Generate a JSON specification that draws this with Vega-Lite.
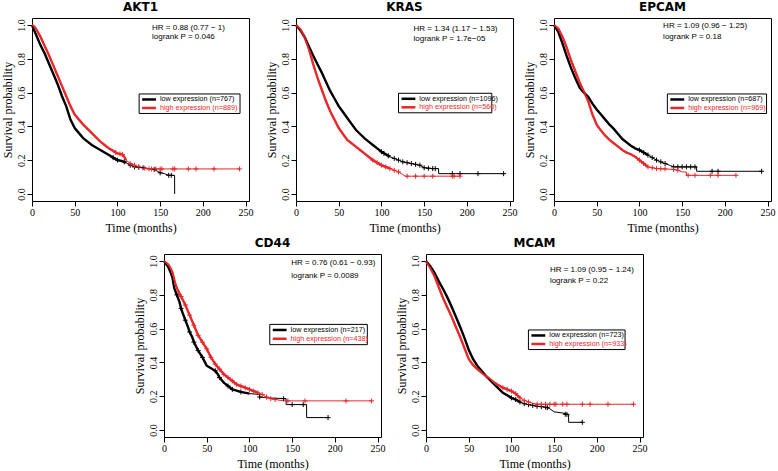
{
"$schema": "https://vega.github.io/schema/vega-lite/v6.json",
"background": "white",
"padding": {"left": 0, "top": 0, "right": 0, "bottom": 0},
"config": {
  "view": {"stroke": "#000", "strokeWidth": 1},
  "axis": {"domain": false, "grid": false, "tickSize": 5, "tickColor": "#000", "labelColor": "#000", "titleColor": "#000", "labelFont": "Liberation Serif", "labelFontSize": 10, "titleFont": "Liberation Serif", "titleFontSize": 12, "titleFontWeight": "normal", "labelPadding": 1, "titlePadding": 2, "labelFlush": false, "labelOverlap": false, "labelBound": false, "tickCount": 12},
  "axisX": {"titlePadding": 5},
  "axisY": {"labelAngle": 270, "labelAlign": "center", "labelBaseline": "bottom", "labelOverlap": false},
  "title": {"font": "DejaVu Sans", "fontSize": 12, "fontWeight": "bold", "color": "#000", "offset": 0, "baseline": "alphabetic"},
  "line": {"strokeJoin": "miter"}
},
"datasets": {
"km": [
{"g":"AKT1","grp":"low","t":0,"s":1.0},{"g":"AKT1","grp":"low","t":2,"s":0.975},{"g":"AKT1","grp":"low","t":5,"s":0.94},{"g":"AKT1","grp":"low","t":10,"s":0.88},{"g":"AKT1","grp":"low","t":15,"s":0.83},{"g":"AKT1","grp":"low","t":20,"s":0.77},{"g":"AKT1","grp":"low","t":25,"s":0.71},{"g":"AKT1","grp":"low","t":30,"s":0.65},{"g":"AKT1","grp":"low","t":35,"s":0.58},{"g":"AKT1","grp":"low","t":40,"s":0.52},{"g":"AKT1","grp":"low","t":45,"s":0.44},{"g":"AKT1","grp":"low","t":50,"s":0.39},{"g":"AKT1","grp":"low","t":55,"s":0.36},{"g":"AKT1","grp":"low","t":60,"s":0.33},{"g":"AKT1","grp":"low","t":65,"s":0.31},{"g":"AKT1","grp":"low","t":70,"s":0.29},{"g":"AKT1","grp":"low","t":75,"s":0.275},{"g":"AKT1","grp":"low","t":80,"s":0.26},{"g":"AKT1","grp":"low","t":85,"s":0.245},{"g":"AKT1","grp":"low","t":90,"s":0.23},{"g":"AKT1","grp":"low","t":95,"s":0.215},{"g":"AKT1","grp":"low","t":100,"s":0.2},{"g":"AKT1","grp":"low","t":105,"s":0.195},{"g":"AKT1","grp":"low","t":110,"s":0.185},{"g":"AKT1","grp":"low","t":115,"s":0.17},{"g":"AKT1","grp":"low","t":120,"s":0.16},{"g":"AKT1","grp":"low","t":130,"s":0.155},{"g":"AKT1","grp":"low","t":140,"s":0.148},{"g":"AKT1","grp":"low","t":145,"s":0.14},{"g":"AKT1","grp":"low","t":150,"s":0.125},{"g":"AKT1","grp":"low","t":155,"s":0.12},{"g":"AKT1","grp":"low","t":160,"s":0.11},{"g":"AKT1","grp":"low","t":166.9,"s":0.11},{"g":"AKT1","grp":"low","t":167,"s":0.0},
{"g":"AKT1","grp":"high","t":0,"s":1.0},{"g":"AKT1","grp":"high","t":3,"s":0.99},{"g":"AKT1","grp":"high","t":5,"s":0.975},{"g":"AKT1","grp":"high","t":10,"s":0.93},{"g":"AKT1","grp":"high","t":15,"s":0.875},{"g":"AKT1","grp":"high","t":20,"s":0.82},{"g":"AKT1","grp":"high","t":25,"s":0.76},{"g":"AKT1","grp":"high","t":30,"s":0.7},{"g":"AKT1","grp":"high","t":35,"s":0.64},{"g":"AKT1","grp":"high","t":40,"s":0.58},{"g":"AKT1","grp":"high","t":45,"s":0.52},{"g":"AKT1","grp":"high","t":50,"s":0.47},{"g":"AKT1","grp":"high","t":55,"s":0.44},{"g":"AKT1","grp":"high","t":60,"s":0.41},{"g":"AKT1","grp":"high","t":65,"s":0.385},{"g":"AKT1","grp":"high","t":70,"s":0.36},{"g":"AKT1","grp":"high","t":75,"s":0.335},{"g":"AKT1","grp":"high","t":80,"s":0.31},{"g":"AKT1","grp":"high","t":85,"s":0.29},{"g":"AKT1","grp":"high","t":90,"s":0.27},{"g":"AKT1","grp":"high","t":95,"s":0.255},{"g":"AKT1","grp":"high","t":100,"s":0.24},{"g":"AKT1","grp":"high","t":105,"s":0.235},{"g":"AKT1","grp":"high","t":108,"s":0.22},{"g":"AKT1","grp":"high","t":110,"s":0.2},{"g":"AKT1","grp":"high","t":115,"s":0.18},{"g":"AKT1","grp":"high","t":120,"s":0.17},{"g":"AKT1","grp":"high","t":125,"s":0.16},{"g":"AKT1","grp":"high","t":130,"s":0.155},{"g":"AKT1","grp":"high","t":135,"s":0.148},{"g":"AKT1","grp":"high","t":243,"s":0.148},
{"g":"KRAS","grp":"low","t":0,"s":1.0},{"g":"KRAS","grp":"low","t":5,"s":0.97},{"g":"KRAS","grp":"low","t":10,"s":0.93},{"g":"KRAS","grp":"low","t":15,"s":0.875},{"g":"KRAS","grp":"low","t":20,"s":0.82},{"g":"KRAS","grp":"low","t":25,"s":0.77},{"g":"KRAS","grp":"low","t":30,"s":0.72},{"g":"KRAS","grp":"low","t":35,"s":0.665},{"g":"KRAS","grp":"low","t":40,"s":0.61},{"g":"KRAS","grp":"low","t":45,"s":0.565},{"g":"KRAS","grp":"low","t":50,"s":0.52},{"g":"KRAS","grp":"low","t":55,"s":0.485},{"g":"KRAS","grp":"low","t":60,"s":0.45},{"g":"KRAS","grp":"low","t":65,"s":0.415},{"g":"KRAS","grp":"low","t":70,"s":0.38},{"g":"KRAS","grp":"low","t":75,"s":0.355},{"g":"KRAS","grp":"low","t":80,"s":0.33},{"g":"KRAS","grp":"low","t":85,"s":0.31},{"g":"KRAS","grp":"low","t":90,"s":0.29},{"g":"KRAS","grp":"low","t":95,"s":0.27},{"g":"KRAS","grp":"low","t":100,"s":0.25},{"g":"KRAS","grp":"low","t":105,"s":0.235},{"g":"KRAS","grp":"low","t":110,"s":0.22},{"g":"KRAS","grp":"low","t":115,"s":0.21},{"g":"KRAS","grp":"low","t":120,"s":0.2},{"g":"KRAS","grp":"low","t":125,"s":0.19},{"g":"KRAS","grp":"low","t":130,"s":0.185},{"g":"KRAS","grp":"low","t":140,"s":0.175},{"g":"KRAS","grp":"low","t":145,"s":0.17},{"g":"KRAS","grp":"low","t":150,"s":0.155},{"g":"KRAS","grp":"low","t":160,"s":0.15},{"g":"KRAS","grp":"low","t":166.9,"s":0.15},{"g":"KRAS","grp":"low","t":167,"s":0.12},{"g":"KRAS","grp":"low","t":243,"s":0.12},
{"g":"KRAS","grp":"high","t":0,"s":1.0},{"g":"KRAS","grp":"high","t":5,"s":0.975},{"g":"KRAS","grp":"high","t":10,"s":0.93},{"g":"KRAS","grp":"high","t":15,"s":0.86},{"g":"KRAS","grp":"high","t":20,"s":0.77},{"g":"KRAS","grp":"high","t":25,"s":0.69},{"g":"KRAS","grp":"high","t":30,"s":0.62},{"g":"KRAS","grp":"high","t":35,"s":0.55},{"g":"KRAS","grp":"high","t":40,"s":0.49},{"g":"KRAS","grp":"high","t":45,"s":0.44},{"g":"KRAS","grp":"high","t":50,"s":0.39},{"g":"KRAS","grp":"high","t":55,"s":0.355},{"g":"KRAS","grp":"high","t":60,"s":0.32},{"g":"KRAS","grp":"high","t":65,"s":0.3},{"g":"KRAS","grp":"high","t":70,"s":0.28},{"g":"KRAS","grp":"high","t":75,"s":0.26},{"g":"KRAS","grp":"high","t":80,"s":0.24},{"g":"KRAS","grp":"high","t":85,"s":0.22},{"g":"KRAS","grp":"high","t":90,"s":0.2},{"g":"KRAS","grp":"high","t":95,"s":0.185},{"g":"KRAS","grp":"high","t":100,"s":0.17},{"g":"KRAS","grp":"high","t":105,"s":0.16},{"g":"KRAS","grp":"high","t":110,"s":0.15},{"g":"KRAS","grp":"high","t":115,"s":0.14},{"g":"KRAS","grp":"high","t":120,"s":0.13},{"g":"KRAS","grp":"high","t":125,"s":0.115},{"g":"KRAS","grp":"high","t":128,"s":0.105},{"g":"KRAS","grp":"high","t":192,"s":0.105},
{"g":"EPCAM","grp":"low","t":0,"s":1.0},{"g":"EPCAM","grp":"low","t":5,"s":0.96},{"g":"EPCAM","grp":"low","t":10,"s":0.89},{"g":"EPCAM","grp":"low","t":15,"s":0.815},{"g":"EPCAM","grp":"low","t":20,"s":0.745},{"g":"EPCAM","grp":"low","t":25,"s":0.685},{"g":"EPCAM","grp":"low","t":30,"s":0.63},{"g":"EPCAM","grp":"low","t":35,"s":0.6},{"g":"EPCAM","grp":"low","t":40,"s":0.575},{"g":"EPCAM","grp":"low","t":45,"s":0.535},{"g":"EPCAM","grp":"low","t":50,"s":0.5},{"g":"EPCAM","grp":"low","t":55,"s":0.47},{"g":"EPCAM","grp":"low","t":60,"s":0.44},{"g":"EPCAM","grp":"low","t":65,"s":0.41},{"g":"EPCAM","grp":"low","t":70,"s":0.385},{"g":"EPCAM","grp":"low","t":75,"s":0.355},{"g":"EPCAM","grp":"low","t":80,"s":0.325},{"g":"EPCAM","grp":"low","t":85,"s":0.305},{"g":"EPCAM","grp":"low","t":90,"s":0.285},{"g":"EPCAM","grp":"low","t":95,"s":0.27},{"g":"EPCAM","grp":"low","t":100,"s":0.26},{"g":"EPCAM","grp":"low","t":105,"s":0.245},{"g":"EPCAM","grp":"low","t":110,"s":0.23},{"g":"EPCAM","grp":"low","t":115,"s":0.215},{"g":"EPCAM","grp":"low","t":120,"s":0.2},{"g":"EPCAM","grp":"low","t":125,"s":0.19},{"g":"EPCAM","grp":"low","t":130,"s":0.18},{"g":"EPCAM","grp":"low","t":135,"s":0.17},{"g":"EPCAM","grp":"low","t":140,"s":0.16},{"g":"EPCAM","grp":"low","t":166.9,"s":0.16},{"g":"EPCAM","grp":"low","t":167,"s":0.134},{"g":"EPCAM","grp":"low","t":243,"s":0.134},
{"g":"EPCAM","grp":"high","t":0,"s":1.0},{"g":"EPCAM","grp":"high","t":5,"s":0.98},{"g":"EPCAM","grp":"high","t":10,"s":0.93},{"g":"EPCAM","grp":"high","t":15,"s":0.865},{"g":"EPCAM","grp":"high","t":20,"s":0.79},{"g":"EPCAM","grp":"high","t":25,"s":0.725},{"g":"EPCAM","grp":"high","t":30,"s":0.66},{"g":"EPCAM","grp":"high","t":35,"s":0.605},{"g":"EPCAM","grp":"high","t":40,"s":0.55},{"g":"EPCAM","grp":"high","t":45,"s":0.47},{"g":"EPCAM","grp":"high","t":50,"s":0.41},{"g":"EPCAM","grp":"high","t":55,"s":0.375},{"g":"EPCAM","grp":"high","t":60,"s":0.345},{"g":"EPCAM","grp":"high","t":65,"s":0.32},{"g":"EPCAM","grp":"high","t":70,"s":0.3},{"g":"EPCAM","grp":"high","t":75,"s":0.28},{"g":"EPCAM","grp":"high","t":80,"s":0.26},{"g":"EPCAM","grp":"high","t":85,"s":0.245},{"g":"EPCAM","grp":"high","t":90,"s":0.235},{"g":"EPCAM","grp":"high","t":95,"s":0.22},{"g":"EPCAM","grp":"high","t":100,"s":0.2},{"g":"EPCAM","grp":"high","t":105,"s":0.18},{"g":"EPCAM","grp":"high","t":110,"s":0.16},{"g":"EPCAM","grp":"high","t":115,"s":0.155},{"g":"EPCAM","grp":"high","t":120,"s":0.15},{"g":"EPCAM","grp":"high","t":130,"s":0.148},{"g":"EPCAM","grp":"high","t":140,"s":0.145},{"g":"EPCAM","grp":"high","t":145,"s":0.14},{"g":"EPCAM","grp":"high","t":150,"s":0.13},{"g":"EPCAM","grp":"high","t":154.9,"s":0.13},{"g":"EPCAM","grp":"high","t":155,"s":0.11},{"g":"EPCAM","grp":"high","t":213,"s":0.11},
{"g":"CD44","grp":"low","t":0,"s":1.0},{"g":"CD44","grp":"low","t":5,"s":0.965},{"g":"CD44","grp":"low","t":8,"s":0.93},{"g":"CD44","grp":"low","t":10,"s":0.9},{"g":"CD44","grp":"low","t":12,"s":0.84},{"g":"CD44","grp":"low","t":15,"s":0.8},{"g":"CD44","grp":"low","t":18,"s":0.76},{"g":"CD44","grp":"low","t":20,"s":0.72},{"g":"CD44","grp":"low","t":22,"s":0.69},{"g":"CD44","grp":"low","t":25,"s":0.65},{"g":"CD44","grp":"low","t":28,"s":0.61},{"g":"CD44","grp":"low","t":30,"s":0.58},{"g":"CD44","grp":"low","t":33,"s":0.55},{"g":"CD44","grp":"low","t":35,"s":0.52},{"g":"CD44","grp":"low","t":38,"s":0.49},{"g":"CD44","grp":"low","t":40,"s":0.47},{"g":"CD44","grp":"low","t":45,"s":0.43},{"g":"CD44","grp":"low","t":48,"s":0.4},{"g":"CD44","grp":"low","t":50,"s":0.38},{"g":"CD44","grp":"low","t":55,"s":0.365},{"g":"CD44","grp":"low","t":60,"s":0.35},{"g":"CD44","grp":"low","t":63,"s":0.33},{"g":"CD44","grp":"low","t":65,"s":0.31},{"g":"CD44","grp":"low","t":70,"s":0.28},{"g":"CD44","grp":"low","t":75,"s":0.26},{"g":"CD44","grp":"low","t":80,"s":0.24},{"g":"CD44","grp":"low","t":90,"s":0.225},{"g":"CD44","grp":"low","t":100,"s":0.215},{"g":"CD44","grp":"low","t":111.9,"s":0.21},{"g":"CD44","grp":"low","t":112,"s":0.195},{"g":"CD44","grp":"low","t":120,"s":0.19},{"g":"CD44","grp":"low","t":142.9,"s":0.185},{"g":"CD44","grp":"low","t":143,"s":0.15},{"g":"CD44","grp":"low","t":166.9,"s":0.15},{"g":"CD44","grp":"low","t":167,"s":0.073},{"g":"CD44","grp":"low","t":192,"s":0.073},
{"g":"CD44","grp":"high","t":0,"s":1.0},{"g":"CD44","grp":"high","t":5,"s":0.98},{"g":"CD44","grp":"high","t":8,"s":0.955},{"g":"CD44","grp":"high","t":10,"s":0.93},{"g":"CD44","grp":"high","t":13,"s":0.87},{"g":"CD44","grp":"high","t":15,"s":0.84},{"g":"CD44","grp":"high","t":20,"s":0.79},{"g":"CD44","grp":"high","t":25,"s":0.74},{"g":"CD44","grp":"high","t":30,"s":0.68},{"g":"CD44","grp":"high","t":35,"s":0.62},{"g":"CD44","grp":"high","t":40,"s":0.56},{"g":"CD44","grp":"high","t":45,"s":0.52},{"g":"CD44","grp":"high","t":50,"s":0.48},{"g":"CD44","grp":"high","t":55,"s":0.43},{"g":"CD44","grp":"high","t":60,"s":0.39},{"g":"CD44","grp":"high","t":65,"s":0.36},{"g":"CD44","grp":"high","t":70,"s":0.33},{"g":"CD44","grp":"high","t":75,"s":0.31},{"g":"CD44","grp":"high","t":80,"s":0.29},{"g":"CD44","grp":"high","t":85,"s":0.27},{"g":"CD44","grp":"high","t":90,"s":0.26},{"g":"CD44","grp":"high","t":95,"s":0.25},{"g":"CD44","grp":"high","t":100,"s":0.24},{"g":"CD44","grp":"high","t":105,"s":0.23},{"g":"CD44","grp":"high","t":110,"s":0.22},{"g":"CD44","grp":"high","t":115,"s":0.21},{"g":"CD44","grp":"high","t":120,"s":0.195},{"g":"CD44","grp":"high","t":125,"s":0.185},{"g":"CD44","grp":"high","t":130,"s":0.18},{"g":"CD44","grp":"high","t":140,"s":0.172},{"g":"CD44","grp":"high","t":243,"s":0.172},
{"g":"MCAM","grp":"low","t":0,"s":1.0},{"g":"MCAM","grp":"low","t":5,"s":0.97},{"g":"MCAM","grp":"low","t":10,"s":0.93},{"g":"MCAM","grp":"low","t":15,"s":0.88},{"g":"MCAM","grp":"low","t":20,"s":0.835},{"g":"MCAM","grp":"low","t":25,"s":0.785},{"g":"MCAM","grp":"low","t":30,"s":0.73},{"g":"MCAM","grp":"low","t":35,"s":0.67},{"g":"MCAM","grp":"low","t":40,"s":0.61},{"g":"MCAM","grp":"low","t":45,"s":0.545},{"g":"MCAM","grp":"low","t":50,"s":0.475},{"g":"MCAM","grp":"low","t":55,"s":0.42},{"g":"MCAM","grp":"low","t":60,"s":0.38},{"g":"MCAM","grp":"low","t":65,"s":0.35},{"g":"MCAM","grp":"low","t":70,"s":0.32},{"g":"MCAM","grp":"low","t":75,"s":0.295},{"g":"MCAM","grp":"low","t":80,"s":0.27},{"g":"MCAM","grp":"low","t":85,"s":0.245},{"g":"MCAM","grp":"low","t":90,"s":0.22},{"g":"MCAM","grp":"low","t":95,"s":0.205},{"g":"MCAM","grp":"low","t":100,"s":0.19},{"g":"MCAM","grp":"low","t":105,"s":0.18},{"g":"MCAM","grp":"low","t":110,"s":0.165},{"g":"MCAM","grp":"low","t":115,"s":0.155},{"g":"MCAM","grp":"low","t":120,"s":0.15},{"g":"MCAM","grp":"low","t":130,"s":0.14},{"g":"MCAM","grp":"low","t":140,"s":0.135},{"g":"MCAM","grp":"low","t":145,"s":0.125},{"g":"MCAM","grp":"low","t":150,"s":0.107},{"g":"MCAM","grp":"low","t":160,"s":0.1},{"g":"MCAM","grp":"low","t":166.9,"s":0.09},{"g":"MCAM","grp":"low","t":167,"s":0.045},{"g":"MCAM","grp":"low","t":183,"s":0.045},
{"g":"MCAM","grp":"high","t":0,"s":1.0},{"g":"MCAM","grp":"high","t":5,"s":0.96},{"g":"MCAM","grp":"high","t":10,"s":0.91},{"g":"MCAM","grp":"high","t":15,"s":0.845},{"g":"MCAM","grp":"high","t":20,"s":0.78},{"g":"MCAM","grp":"high","t":25,"s":0.725},{"g":"MCAM","grp":"high","t":30,"s":0.67},{"g":"MCAM","grp":"high","t":35,"s":0.61},{"g":"MCAM","grp":"high","t":40,"s":0.55},{"g":"MCAM","grp":"high","t":45,"s":0.485},{"g":"MCAM","grp":"high","t":50,"s":0.42},{"g":"MCAM","grp":"high","t":55,"s":0.385},{"g":"MCAM","grp":"high","t":60,"s":0.36},{"g":"MCAM","grp":"high","t":65,"s":0.34},{"g":"MCAM","grp":"high","t":70,"s":0.32},{"g":"MCAM","grp":"high","t":75,"s":0.3},{"g":"MCAM","grp":"high","t":80,"s":0.28},{"g":"MCAM","grp":"high","t":85,"s":0.265},{"g":"MCAM","grp":"high","t":90,"s":0.25},{"g":"MCAM","grp":"high","t":95,"s":0.24},{"g":"MCAM","grp":"high","t":100,"s":0.23},{"g":"MCAM","grp":"high","t":105,"s":0.215},{"g":"MCAM","grp":"high","t":110,"s":0.19},{"g":"MCAM","grp":"high","t":115,"s":0.175},{"g":"MCAM","grp":"high","t":120,"s":0.165},{"g":"MCAM","grp":"high","t":125,"s":0.158},{"g":"MCAM","grp":"high","t":130,"s":0.152},{"g":"MCAM","grp":"high","t":243,"s":0.152}
],
"cens": [
{"g":"AKT1","grp":"low","t":95,"s":0.215},{"g":"AKT1","grp":"low","t":100,"s":0.2},{"g":"AKT1","grp":"low","t":108,"s":0.19},{"g":"AKT1","grp":"low","t":115,"s":0.17},{"g":"AKT1","grp":"low","t":120,"s":0.16},{"g":"AKT1","grp":"low","t":125,"s":0.158},{"g":"AKT1","grp":"low","t":130,"s":0.155},{"g":"AKT1","grp":"low","t":143,"s":0.145},{"g":"AKT1","grp":"low","t":150,"s":0.125},{"g":"AKT1","grp":"low","t":160,"s":0.11},{"g":"AKT1","grp":"low","t":163,"s":0.11},
{"g":"AKT1","grp":"high","t":98,"s":0.245},{"g":"AKT1","grp":"high","t":103,"s":0.237},{"g":"AKT1","grp":"high","t":106,"s":0.233},{"g":"AKT1","grp":"high","t":115,"s":0.18},{"g":"AKT1","grp":"high","t":120,"s":0.17},{"g":"AKT1","grp":"high","t":125,"s":0.16},{"g":"AKT1","grp":"high","t":132,"s":0.152},{"g":"AKT1","grp":"high","t":137,"s":0.148},{"g":"AKT1","grp":"high","t":140,"s":0.148},{"g":"AKT1","grp":"high","t":145,"s":0.148},{"g":"AKT1","grp":"high","t":150,"s":0.148},{"g":"AKT1","grp":"high","t":152,"s":0.148},{"g":"AKT1","grp":"high","t":165,"s":0.148},{"g":"AKT1","grp":"high","t":167,"s":0.148},{"g":"AKT1","grp":"high","t":183,"s":0.148},{"g":"AKT1","grp":"high","t":192,"s":0.148},{"g":"AKT1","grp":"high","t":213,"s":0.148},{"g":"AKT1","grp":"high","t":243,"s":0.148},
{"g":"KRAS","grp":"low","t":100,"s":0.25},{"g":"KRAS","grp":"low","t":103,"s":0.24},{"g":"KRAS","grp":"low","t":108,"s":0.226},{"g":"KRAS","grp":"low","t":115,"s":0.21},{"g":"KRAS","grp":"low","t":120,"s":0.2},{"g":"KRAS","grp":"low","t":125,"s":0.19},{"g":"KRAS","grp":"low","t":130,"s":0.185},{"g":"KRAS","grp":"low","t":135,"s":0.18},{"g":"KRAS","grp":"low","t":140,"s":0.175},{"g":"KRAS","grp":"low","t":145,"s":0.17},{"g":"KRAS","grp":"low","t":150,"s":0.155},{"g":"KRAS","grp":"low","t":155,"s":0.152},{"g":"KRAS","grp":"low","t":160,"s":0.15},{"g":"KRAS","grp":"low","t":163,"s":0.15},{"g":"KRAS","grp":"low","t":183,"s":0.12},{"g":"KRAS","grp":"low","t":192,"s":0.12},{"g":"KRAS","grp":"low","t":213,"s":0.12},{"g":"KRAS","grp":"low","t":243,"s":0.12},
{"g":"KRAS","grp":"high","t":90,"s":0.2},{"g":"KRAS","grp":"high","t":95,"s":0.185},{"g":"KRAS","grp":"high","t":100,"s":0.17},{"g":"KRAS","grp":"high","t":105,"s":0.16},{"g":"KRAS","grp":"high","t":110,"s":0.15},{"g":"KRAS","grp":"high","t":115,"s":0.14},{"g":"KRAS","grp":"high","t":120,"s":0.13},{"g":"KRAS","grp":"high","t":130,"s":0.105},{"g":"KRAS","grp":"high","t":140,"s":0.105},{"g":"KRAS","grp":"high","t":150,"s":0.105},{"g":"KRAS","grp":"high","t":160,"s":0.105},{"g":"KRAS","grp":"high","t":183,"s":0.105},{"g":"KRAS","grp":"high","t":185,"s":0.105},{"g":"KRAS","grp":"high","t":192,"s":0.105},
{"g":"EPCAM","grp":"low","t":100,"s":0.26},{"g":"EPCAM","grp":"low","t":105,"s":0.245},{"g":"EPCAM","grp":"low","t":110,"s":0.23},{"g":"EPCAM","grp":"low","t":115,"s":0.215},{"g":"EPCAM","grp":"low","t":120,"s":0.2},{"g":"EPCAM","grp":"low","t":125,"s":0.19},{"g":"EPCAM","grp":"low","t":130,"s":0.18},{"g":"EPCAM","grp":"low","t":140,"s":0.16},{"g":"EPCAM","grp":"low","t":145,"s":0.16},{"g":"EPCAM","grp":"low","t":150,"s":0.16},{"g":"EPCAM","grp":"low","t":155,"s":0.16},{"g":"EPCAM","grp":"low","t":160,"s":0.16},{"g":"EPCAM","grp":"low","t":165,"s":0.16},{"g":"EPCAM","grp":"low","t":185,"s":0.134},{"g":"EPCAM","grp":"low","t":192,"s":0.134},{"g":"EPCAM","grp":"low","t":243,"s":0.134},
{"g":"EPCAM","grp":"high","t":100,"s":0.2},{"g":"EPCAM","grp":"high","t":105,"s":0.18},{"g":"EPCAM","grp":"high","t":110,"s":0.16},{"g":"EPCAM","grp":"high","t":115,"s":0.155},{"g":"EPCAM","grp":"high","t":120,"s":0.15},{"g":"EPCAM","grp":"high","t":125,"s":0.149},{"g":"EPCAM","grp":"high","t":130,"s":0.148},{"g":"EPCAM","grp":"high","t":140,"s":0.145},{"g":"EPCAM","grp":"high","t":145,"s":0.14},{"g":"EPCAM","grp":"high","t":157,"s":0.11},{"g":"EPCAM","grp":"high","t":165,"s":0.11},{"g":"EPCAM","grp":"high","t":183,"s":0.11},{"g":"EPCAM","grp":"high","t":192,"s":0.11},{"g":"EPCAM","grp":"high","t":213,"s":0.11},
{"g":"CD44","grp":"low","t":15,"s":0.8},{"g":"CD44","grp":"low","t":20,"s":0.72},{"g":"CD44","grp":"low","t":25,"s":0.65},{"g":"CD44","grp":"low","t":30,"s":0.58},{"g":"CD44","grp":"low","t":35,"s":0.52},{"g":"CD44","grp":"low","t":40,"s":0.47},{"g":"CD44","grp":"low","t":45,"s":0.43},{"g":"CD44","grp":"low","t":60,"s":0.35},{"g":"CD44","grp":"low","t":65,"s":0.31},{"g":"CD44","grp":"low","t":75,"s":0.26},{"g":"CD44","grp":"low","t":80,"s":0.24},{"g":"CD44","grp":"low","t":90,"s":0.225},{"g":"CD44","grp":"low","t":112,"s":0.195},{"g":"CD44","grp":"low","t":140,"s":0.185},{"g":"CD44","grp":"low","t":150,"s":0.15},{"g":"CD44","grp":"low","t":163,"s":0.15},{"g":"CD44","grp":"low","t":192,"s":0.073},
{"g":"CD44","grp":"high","t":20,"s":0.79},{"g":"CD44","grp":"high","t":25,"s":0.74},{"g":"CD44","grp":"high","t":30,"s":0.68},{"g":"CD44","grp":"high","t":35,"s":0.62},{"g":"CD44","grp":"high","t":40,"s":0.56},{"g":"CD44","grp":"high","t":45,"s":0.52},{"g":"CD44","grp":"high","t":50,"s":0.48},{"g":"CD44","grp":"high","t":55,"s":0.43},{"g":"CD44","grp":"high","t":60,"s":0.39},{"g":"CD44","grp":"high","t":65,"s":0.36},{"g":"CD44","grp":"high","t":70,"s":0.33},{"g":"CD44","grp":"high","t":75,"s":0.31},{"g":"CD44","grp":"high","t":80,"s":0.29},{"g":"CD44","grp":"high","t":85,"s":0.27},{"g":"CD44","grp":"high","t":90,"s":0.26},{"g":"CD44","grp":"high","t":95,"s":0.25},{"g":"CD44","grp":"high","t":100,"s":0.24},{"g":"CD44","grp":"high","t":105,"s":0.23},{"g":"CD44","grp":"high","t":110,"s":0.22},{"g":"CD44","grp":"high","t":115,"s":0.21},{"g":"CD44","grp":"high","t":120,"s":0.195},{"g":"CD44","grp":"high","t":125,"s":0.185},{"g":"CD44","grp":"high","t":130,"s":0.18},{"g":"CD44","grp":"high","t":145,"s":0.172},{"g":"CD44","grp":"high","t":165,"s":0.172},{"g":"CD44","grp":"high","t":213,"s":0.172},{"g":"CD44","grp":"high","t":243,"s":0.172},
{"g":"MCAM","grp":"low","t":100,"s":0.19},{"g":"MCAM","grp":"low","t":105,"s":0.18},{"g":"MCAM","grp":"low","t":110,"s":0.165},{"g":"MCAM","grp":"low","t":115,"s":0.155},{"g":"MCAM","grp":"low","t":120,"s":0.15},{"g":"MCAM","grp":"low","t":125,"s":0.145},{"g":"MCAM","grp":"low","t":130,"s":0.14},{"g":"MCAM","grp":"low","t":135,"s":0.138},{"g":"MCAM","grp":"low","t":140,"s":0.135},{"g":"MCAM","grp":"low","t":142,"s":0.132},{"g":"MCAM","grp":"low","t":163,"s":0.093},{"g":"MCAM","grp":"low","t":165,"s":0.092},{"g":"MCAM","grp":"low","t":183,"s":0.045},
{"g":"MCAM","grp":"high","t":90,"s":0.25},{"g":"MCAM","grp":"high","t":95,"s":0.24},{"g":"MCAM","grp":"high","t":100,"s":0.23},{"g":"MCAM","grp":"high","t":105,"s":0.215},{"g":"MCAM","grp":"high","t":110,"s":0.19},{"g":"MCAM","grp":"high","t":115,"s":0.175},{"g":"MCAM","grp":"high","t":120,"s":0.165},{"g":"MCAM","grp":"high","t":130,"s":0.152},{"g":"MCAM","grp":"high","t":135,"s":0.152},{"g":"MCAM","grp":"high","t":140,"s":0.152},{"g":"MCAM","grp":"high","t":145,"s":0.152},{"g":"MCAM","grp":"high","t":150,"s":0.152},{"g":"MCAM","grp":"high","t":152,"s":0.152},{"g":"MCAM","grp":"high","t":160,"s":0.152},{"g":"MCAM","grp":"high","t":165,"s":0.152},{"g":"MCAM","grp":"high","t":183,"s":0.152},{"g":"MCAM","grp":"high","t":192,"s":0.152},{"g":"MCAM","grp":"high","t":213,"s":0.152},{"g":"MCAM","grp":"high","t":243,"s":0.152}
]
},
"vconcat": [
{"hconcat": [
 {"width": 217, "height": 183, "title": "AKT1", "layer": [
  {"data": {"name": "km"}, "transform": [{"filter": "datum.g=='AKT1' && datum.t<=110"}], "mark": {"type": "line", "strokeWidth": 2.4}, "encoding": {"x": {"field": "t", "type": "quantitative", "scale": {"domain": [0, 254], "nice": false, "zero": false}, "axis": {"values": [0, 50, 100, 150, 200, 250], "tickCount": 12, "title": "Time (months)"}}, "y": {"field": "s", "type": "quantitative", "scale": {"domain": [-0.042, 1.042], "nice": false, "zero": false}, "axis": {"values": [0, 0.2, 0.4, 0.6, 0.8, 1], "tickCount": 12, "format": ".1f", "title": "Survival probability", "labelOverlap": false}}, "color": {"field": "grp", "type": "nominal", "scale": {"domain": ["low", "high"], "range": ["#000000", "#e8282b"]}, "legend": null}}},
  {"data": {"name": "km"}, "transform": [{"filter": "datum.g=='AKT1'"}], "mark": {"type": "line", "strokeWidth": 1}, "encoding": {"x": {"field": "t", "type": "quantitative"}, "y": {"field": "s", "type": "quantitative"}, "color": {"field": "grp", "type": "nominal", "legend": null}}},
  {"data": {"name": "cens"}, "transform": [{"filter": "datum.g=='AKT1'"}], "mark": {"type": "point", "shape": "M0,-1V1M-1,0H1", "size": 25, "filled": false, "strokeWidth": 1, "opacity": 1}, "encoding": {"x": {"field": "t", "type": "quantitative"}, "y": {"field": "s", "type": "quantitative"}, "color": {"field": "grp", "type": "nominal", "legend": null}}},
  {"data": {"values": [{}]}, "mark": {"type": "text", "align": "left", "baseline": "middle", "font": "Liberation Sans", "fontSize": 8, "color": "#000"}, "encoding": {"x": {"datum": 140.5}, "y": {"datum": 0.98}, "text": {"value": "HR = 0.88 (0.77 − 1)"}}},
  {"data": {"values": [{}]}, "mark": {"type": "text", "align": "left", "baseline": "middle", "font": "Liberation Sans", "fontSize": 8, "color": "#000"}, "encoding": {"x": {"datum": 140.5}, "y": {"datum": 0.927}, "text": {"value": "logrank P = 0.046"}}},
  {"data": {"values": [{}]}, "mark": {"type": "rect", "fill": "white", "stroke": "#000", "strokeWidth": 1}, "encoding": {"x": {"datum": 125.4}, "x2": {"datum": 243.5}, "y": {"datum": 0.592}, "y2": {"datum": 0.4765}}},
  {"data": {"values": [{}]}, "mark": {"type": "rule", "strokeWidth": 2.5, "color": "#000"}, "encoding": {"x": {"datum": 128.9}, "x2": {"datum": 145.1}, "y": {"datum": 0.5594}}},
  {"data": {"values": [{}]}, "mark": {"type": "rule", "strokeWidth": 2.5, "color": "#e8282b"}, "encoding": {"x": {"datum": 128.9}, "x2": {"datum": 145.1}, "y": {"datum": 0.509}}},
  {"data": {"values": [{}]}, "mark": {"type": "text", "align": "left", "baseline": "middle", "font": "Liberation Sans", "fontSize": 7.2, "color": "#000"}, "encoding": {"x": {"datum": 149.8}, "y": {"datum": 0.5594}, "text": {"value": "low expression (n=767)"}}},
  {"data": {"values": [{}]}, "mark": {"type": "text", "align": "left", "baseline": "middle", "font": "Liberation Sans", "fontSize": 7.2, "color": "#e8282b"}, "encoding": {"x": {"datum": 149.8}, "y": {"datum": 0.509}, "text": {"value": "high expression (n=889)"}}}
 ]},
 {"hconcat": [
 {"width": 217, "height": 183, "title": "KRAS", "layer": [
  {"data": {"name": "km"}, "transform": [{"filter": "datum.g=='KRAS' && datum.t<=110"}], "mark": {"type": "line", "strokeWidth": 2.4}, "encoding": {"x": {"field": "t", "type": "quantitative", "scale": {"domain": [0, 254], "nice": false, "zero": false}, "axis": {"values": [0, 50, 100, 150, 200, 250], "tickCount": 12, "title": "Time (months)"}}, "y": {"field": "s", "type": "quantitative", "scale": {"domain": [-0.042, 1.042], "nice": false, "zero": false}, "axis": {"values": [0, 0.2, 0.4, 0.6, 0.8, 1], "tickCount": 12, "format": ".1f", "title": "Survival probability", "labelOverlap": false}}, "color": {"field": "grp", "type": "nominal", "scale": {"domain": ["low", "high"], "range": ["#000000", "#e8282b"]}, "legend": null}}},
  {"data": {"name": "km"}, "transform": [{"filter": "datum.g=='KRAS'"}], "mark": {"type": "line", "strokeWidth": 1}, "encoding": {"x": {"field": "t", "type": "quantitative"}, "y": {"field": "s", "type": "quantitative"}, "color": {"field": "grp", "type": "nominal", "legend": null}}},
  {"data": {"name": "cens"}, "transform": [{"filter": "datum.g=='KRAS'"}], "mark": {"type": "point", "shape": "M0,-1V1M-1,0H1", "size": 25, "filled": false, "strokeWidth": 1, "opacity": 1}, "encoding": {"x": {"field": "t", "type": "quantitative"}, "y": {"field": "s", "type": "quantitative"}, "color": {"field": "grp", "type": "nominal", "legend": null}}},
  {"data": {"values": [{}]}, "mark": {"type": "text", "align": "left", "baseline": "middle", "font": "Liberation Sans", "fontSize": 8, "color": "#000"}, "encoding": {"x": {"datum": 137.5}, "y": {"datum": 0.976}, "text": {"value": "HR = 1.34 (1.17 − 1.53)"}}},
  {"data": {"values": [{}]}, "mark": {"type": "text", "align": "left", "baseline": "middle", "font": "Liberation Sans", "fontSize": 8, "color": "#000"}, "encoding": {"x": {"datum": 137.5}, "y": {"datum": 0.917}, "text": {"value": "logrank P = 1.7e−05"}}},
  {"data": {"values": [{}]}, "mark": {"type": "rect", "fill": "white", "stroke": "#000", "strokeWidth": 1}, "encoding": {"x": {"datum": 120.0}, "x2": {"datum": 229.2}, "y": {"datum": 0.596}, "y2": {"datum": 0.4805}}},
  {"data": {"values": [{}]}, "mark": {"type": "rule", "strokeWidth": 2.5, "color": "#000"}, "encoding": {"x": {"datum": 123.5}, "x2": {"datum": 139.7}, "y": {"datum": 0.5634}}},
  {"data": {"values": [{}]}, "mark": {"type": "rule", "strokeWidth": 2.5, "color": "#e8282b"}, "encoding": {"x": {"datum": 123.5}, "x2": {"datum": 139.7}, "y": {"datum": 0.513}}},
  {"data": {"values": [{}]}, "mark": {"type": "text", "align": "left", "baseline": "middle", "font": "Liberation Sans", "fontSize": 7.2, "color": "#000"}, "encoding": {"x": {"datum": 144.4}, "y": {"datum": 0.5634}, "text": {"value": "low expression (n=1096)"}}},
  {"data": {"values": [{}]}, "mark": {"type": "text", "align": "left", "baseline": "middle", "font": "Liberation Sans", "fontSize": 7.2, "color": "#e8282b"}, "encoding": {"x": {"datum": 144.4}, "y": {"datum": 0.513}, "text": {"value": "high expression (n=560)"}}}
 ]},
 {"width": 217, "height": 183, "title": "EPCAM", "layer": [
  {"data": {"name": "km"}, "transform": [{"filter": "datum.g=='EPCAM' && datum.t<=110"}], "mark": {"type": "line", "strokeWidth": 2.4}, "encoding": {"x": {"field": "t", "type": "quantitative", "scale": {"domain": [0, 254], "nice": false, "zero": false}, "axis": {"values": [0, 50, 100, 150, 200, 250], "tickCount": 12, "title": "Time (months)"}}, "y": {"field": "s", "type": "quantitative", "scale": {"domain": [-0.042, 1.042], "nice": false, "zero": false}, "axis": {"values": [0, 0.2, 0.4, 0.6, 0.8, 1], "tickCount": 12, "format": ".1f", "title": "Survival probability", "labelOverlap": false}}, "color": {"field": "grp", "type": "nominal", "scale": {"domain": ["low", "high"], "range": ["#000000", "#e8282b"]}, "legend": null}}},
  {"data": {"name": "km"}, "transform": [{"filter": "datum.g=='EPCAM'"}], "mark": {"type": "line", "strokeWidth": 1}, "encoding": {"x": {"field": "t", "type": "quantitative"}, "y": {"field": "s", "type": "quantitative"}, "color": {"field": "grp", "type": "nominal", "legend": null}}},
  {"data": {"name": "cens"}, "transform": [{"filter": "datum.g=='EPCAM'"}], "mark": {"type": "point", "shape": "M0,-1V1M-1,0H1", "size": 25, "filled": false, "strokeWidth": 1, "opacity": 1}, "encoding": {"x": {"field": "t", "type": "quantitative"}, "y": {"field": "s", "type": "quantitative"}, "color": {"field": "grp", "type": "nominal", "legend": null}}},
  {"data": {"values": [{}]}, "mark": {"type": "text", "align": "left", "baseline": "middle", "font": "Liberation Sans", "fontSize": 8, "color": "#000"}, "encoding": {"x": {"datum": 127.7}, "y": {"datum": 0.995}, "text": {"value": "HR = 1.09 (0.96 − 1.25)"}}},
  {"data": {"values": [{}]}, "mark": {"type": "text", "align": "left", "baseline": "middle", "font": "Liberation Sans", "fontSize": 8, "color": "#000"}, "encoding": {"x": {"datum": 127.7}, "y": {"datum": 0.93}, "text": {"value": "logrank P = 0.18"}}},
  {"data": {"values": [{}]}, "mark": {"type": "rect", "fill": "white", "stroke": "#000", "strokeWidth": 1}, "encoding": {"x": {"datum": 132.7}, "x2": {"datum": 248.8}, "y": {"datum": 0.592}, "y2": {"datum": 0.4765}}},
  {"data": {"values": [{}]}, "mark": {"type": "rule", "strokeWidth": 2.5, "color": "#000"}, "encoding": {"x": {"datum": 136.2}, "x2": {"datum": 152.4}, "y": {"datum": 0.5594}}},
  {"data": {"values": [{}]}, "mark": {"type": "rule", "strokeWidth": 2.5, "color": "#e8282b"}, "encoding": {"x": {"datum": 136.2}, "x2": {"datum": 152.4}, "y": {"datum": 0.509}}},
  {"data": {"values": [{}]}, "mark": {"type": "text", "align": "left", "baseline": "middle", "font": "Liberation Sans", "fontSize": 7.2, "color": "#000"}, "encoding": {"x": {"datum": 157.1}, "y": {"datum": 0.5594}, "text": {"value": "low expression (n=687)"}}},
  {"data": {"values": [{}]}, "mark": {"type": "text", "align": "left", "baseline": "middle", "font": "Liberation Sans", "fontSize": 7.2, "color": "#e8282b"}, "encoding": {"x": {"datum": 157.1}, "y": {"datum": 0.509}, "text": {"value": "high expression (n=969)"}}}
 ]}
 ], "spacing": 4}
], "spacing": 10},
{"hconcat": [
 {"width": 92, "height": 183, "view": {"stroke": null}, "data": {"values": []}, "mark": {"type": "text"}, "encoding": {}},
 {"width": 217, "height": 183, "title": "CD44", "layer": [
  {"data": {"name": "km"}, "transform": [{"filter": "datum.g=='CD44' && datum.t<=110"}], "mark": {"type": "line", "strokeWidth": 2.4}, "encoding": {"x": {"field": "t", "type": "quantitative", "scale": {"domain": [0, 254], "nice": false, "zero": false}, "axis": {"values": [0, 50, 100, 150, 200, 250], "tickCount": 12, "title": "Time (months)"}}, "y": {"field": "s", "type": "quantitative", "scale": {"domain": [-0.042, 1.042], "nice": false, "zero": false}, "axis": {"values": [0, 0.2, 0.4, 0.6, 0.8, 1], "tickCount": 12, "format": ".1f", "title": "Survival probability", "labelOverlap": false}}, "color": {"field": "grp", "type": "nominal", "scale": {"domain": ["low", "high"], "range": ["#000000", "#e8282b"]}, "legend": null}}},
  {"data": {"name": "km"}, "transform": [{"filter": "datum.g=='CD44'"}], "mark": {"type": "line", "strokeWidth": 1}, "encoding": {"x": {"field": "t", "type": "quantitative"}, "y": {"field": "s", "type": "quantitative"}, "color": {"field": "grp", "type": "nominal", "legend": null}}},
  {"data": {"name": "cens"}, "transform": [{"filter": "datum.g=='CD44'"}], "mark": {"type": "point", "shape": "M0,-1V1M-1,0H1", "size": 25, "filled": false, "strokeWidth": 1, "opacity": 1}, "encoding": {"x": {"field": "t", "type": "quantitative"}, "y": {"field": "s", "type": "quantitative"}, "color": {"field": "grp", "type": "nominal", "legend": null}}},
  {"data": {"values": [{}]}, "mark": {"type": "text", "align": "left", "baseline": "middle", "font": "Liberation Sans", "fontSize": 8, "color": "#000"}, "encoding": {"x": {"datum": 149}, "y": {"datum": 0.99}, "text": {"value": "HR = 0.76 (0.61 − 0.93)"}}},
  {"data": {"values": [{}]}, "mark": {"type": "text", "align": "left", "baseline": "middle", "font": "Liberation Sans", "fontSize": 8, "color": "#000"}, "encoding": {"x": {"datum": 149}, "y": {"datum": 0.913}, "text": {"value": "logrank P = 0.0089"}}},
  {"data": {"values": [{}]}, "mark": {"type": "rect", "fill": "white", "stroke": "#000", "strokeWidth": 1}, "encoding": {"x": {"datum": 123.8}, "x2": {"datum": 238}, "y": {"datum": 0.625}, "y2": {"datum": 0.505}}},
  {"data": {"values": [{}]}, "mark": {"type": "rule", "strokeWidth": 2.5, "color": "#000"}, "encoding": {"x": {"datum": 127.3}, "x2": {"datum": 143.5}, "y": {"datum": 0.592}}},
  {"data": {"values": [{}]}, "mark": {"type": "rule", "strokeWidth": 2.5, "color": "#e8282b"}, "encoding": {"x": {"datum": 127.3}, "x2": {"datum": 143.5}, "y": {"datum": 0.54}}},
  {"data": {"values": [{}]}, "mark": {"type": "text", "align": "left", "baseline": "middle", "font": "Liberation Sans", "fontSize": 7.2, "color": "#000"}, "encoding": {"x": {"datum": 148.2}, "y": {"datum": 0.592}, "text": {"value": "low expression (n=217)"}}},
  {"data": {"values": [{}]}, "mark": {"type": "text", "align": "left", "baseline": "middle", "font": "Liberation Sans", "fontSize": 7.2, "color": "#e8282b"}, "encoding": {"x": {"datum": 148.2}, "y": {"datum": 0.54}, "text": {"value": "high expression (n=438)"}}}
 ]},
 {"width": 217, "height": 183, "title": "MCAM", "layer": [
  {"data": {"name": "km"}, "transform": [{"filter": "datum.g=='MCAM' && datum.t<=110"}], "mark": {"type": "line", "strokeWidth": 2.4}, "encoding": {"x": {"field": "t", "type": "quantitative", "scale": {"domain": [0, 254], "nice": false, "zero": false}, "axis": {"values": [0, 50, 100, 150, 200, 250], "tickCount": 12, "title": "Time (months)"}}, "y": {"field": "s", "type": "quantitative", "scale": {"domain": [-0.042, 1.042], "nice": false, "zero": false}, "axis": {"values": [0, 0.2, 0.4, 0.6, 0.8, 1], "tickCount": 12, "format": ".1f", "title": "Survival probability", "labelOverlap": false}}, "color": {"field": "grp", "type": "nominal", "scale": {"domain": ["low", "high"], "range": ["#000000", "#e8282b"]}, "legend": null}}},
  {"data": {"name": "km"}, "transform": [{"filter": "datum.g=='MCAM'"}], "mark": {"type": "line", "strokeWidth": 1}, "encoding": {"x": {"field": "t", "type": "quantitative"}, "y": {"field": "s", "type": "quantitative"}, "color": {"field": "grp", "type": "nominal", "legend": null}}},
  {"data": {"name": "cens"}, "transform": [{"filter": "datum.g=='MCAM'"}], "mark": {"type": "point", "shape": "M0,-1V1M-1,0H1", "size": 25, "filled": false, "strokeWidth": 1, "opacity": 1}, "encoding": {"x": {"field": "t", "type": "quantitative"}, "y": {"field": "s", "type": "quantitative"}, "color": {"field": "grp", "type": "nominal", "legend": null}}},
  {"data": {"values": [{}]}, "mark": {"type": "text", "align": "left", "baseline": "middle", "font": "Liberation Sans", "fontSize": 8, "color": "#000"}, "encoding": {"x": {"datum": 145}, "y": {"datum": 0.95}, "text": {"value": "HR = 1.09 (0.95 − 1.24)"}}},
  {"data": {"values": [{}]}, "mark": {"type": "text", "align": "left", "baseline": "middle", "font": "Liberation Sans", "fontSize": 8, "color": "#000"}, "encoding": {"x": {"datum": 145}, "y": {"datum": 0.88}, "text": {"value": "logrank P = 0.22"}}},
  {"data": {"values": [{}]}, "mark": {"type": "rect", "fill": "white", "stroke": "#000", "strokeWidth": 1}, "encoding": {"x": {"datum": 119.9}, "x2": {"datum": 233}, "y": {"datum": 0.592}, "y2": {"datum": 0.476}}},
  {"data": {"values": [{}]}, "mark": {"type": "rule", "strokeWidth": 2.5, "color": "#000"}, "encoding": {"x": {"datum": 123.4}, "x2": {"datum": 139.6}, "y": {"datum": 0.5594}}},
  {"data": {"values": [{}]}, "mark": {"type": "rule", "strokeWidth": 2.5, "color": "#e8282b"}, "encoding": {"x": {"datum": 123.4}, "x2": {"datum": 139.6}, "y": {"datum": 0.509}}},
  {"data": {"values": [{}]}, "mark": {"type": "text", "align": "left", "baseline": "middle", "font": "Liberation Sans", "fontSize": 7.2, "color": "#000"}, "encoding": {"x": {"datum": 144.3}, "y": {"datum": 0.5594}, "text": {"value": "low expression (n=723)"}}},
  {"data": {"values": [{}]}, "mark": {"type": "text", "align": "left", "baseline": "middle", "font": "Liberation Sans", "fontSize": 7.2, "color": "#e8282b"}, "encoding": {"x": {"datum": 144.3}, "y": {"datum": 0.509}, "text": {"value": "high expression (n=933)"}}}
 ]}
], "spacing": 8}
],
"spacing": 2
}
